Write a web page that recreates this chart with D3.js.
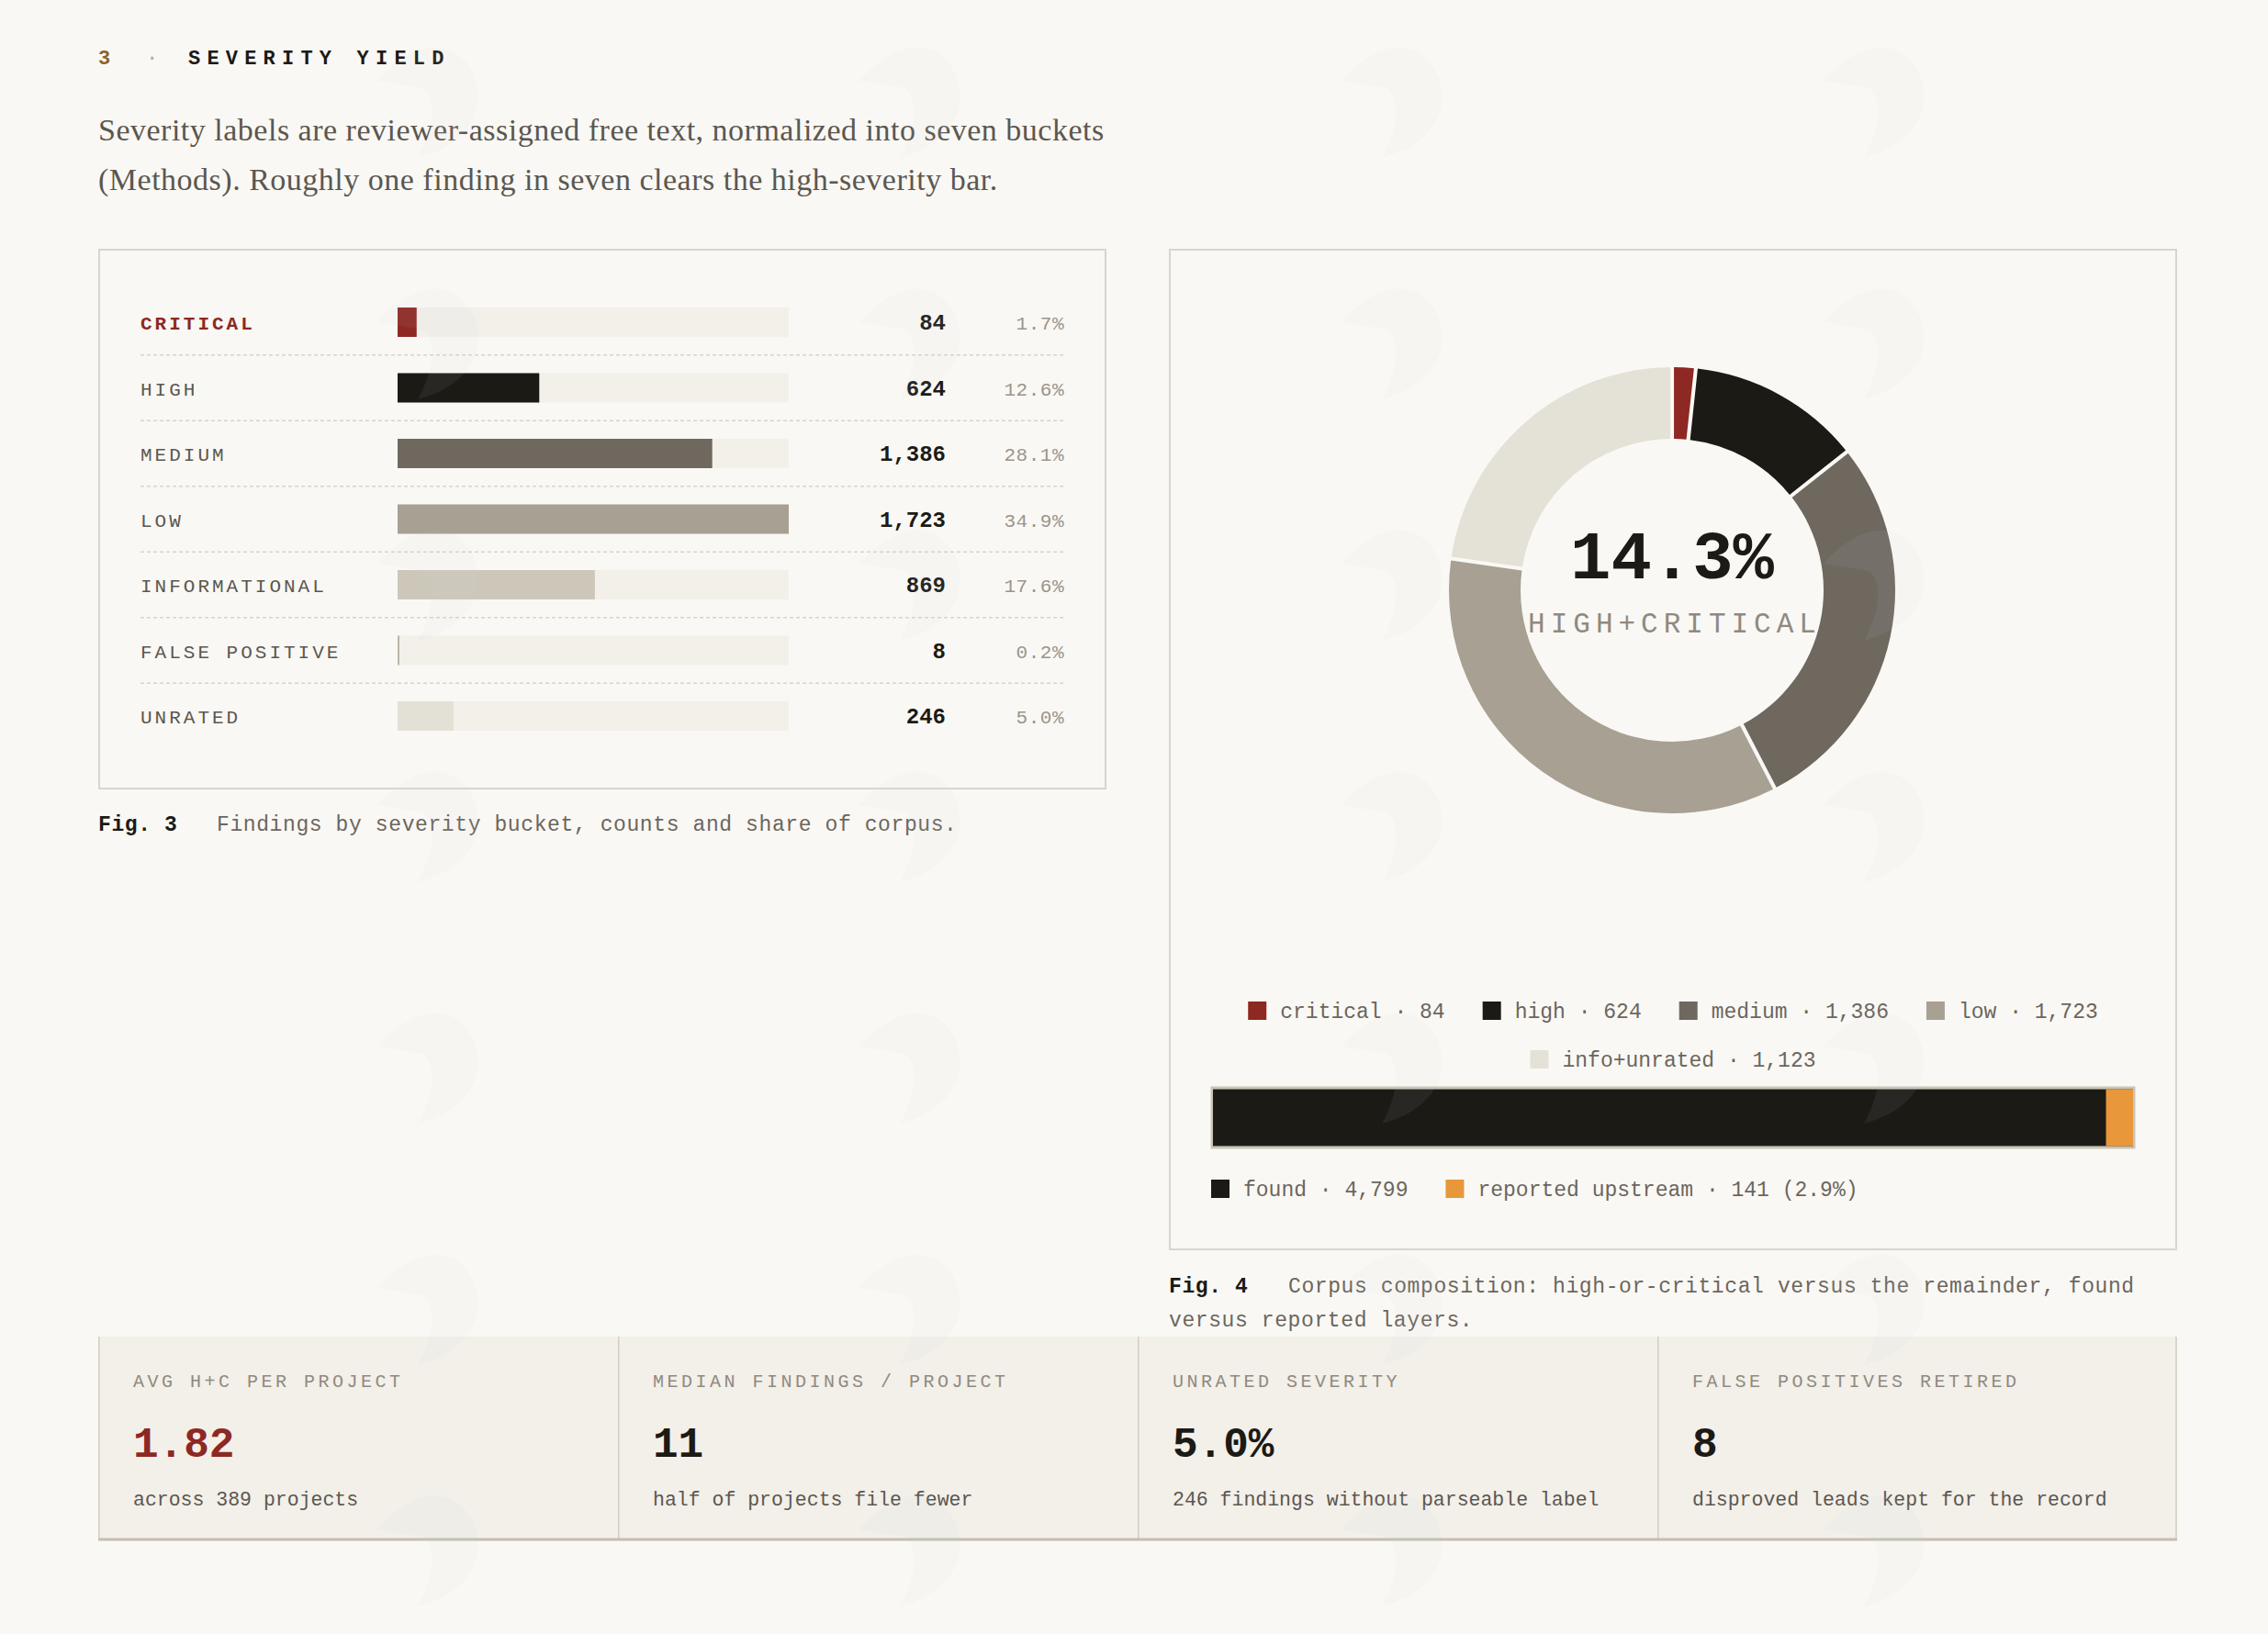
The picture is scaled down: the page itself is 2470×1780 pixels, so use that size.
<!DOCTYPE html>
<html>
<head>
<meta charset="utf-8">
<script src="https://d3js.org/d3.v7.min.js"></script>
<style>
  html, body { margin: 0; padding: 0; background: #faf8f4; }
  svg { display: block; }
  .mono { font-family: "Liberation Mono", "DejaVu Sans Mono", monospace; }
  .serif { font-family: "Liberation Serif", "DejaVu Serif", serif; }
</style>
</head>
<body>
<div id="chart"></div>
<script>
// severity buckets (Fig. 3)
var categories = ["CRITICAL", "HIGH", "MEDIUM", "LOW", "INFORMATIONAL", "FALSE POSITIVE", "UNRATED"];
var counts = [84, 624, 1386, 1723, 869, 8, 246];
var barColors = ["#8d2823", "#1c1a15", "#6e685f", "#a7a093", "#cdc7ba", "#bdb5a7", "#e3e0d5"];

// donut buckets (Fig. 4)
var donutLabels = ["critical", "high", "medium", "low", "info+unrated"];
var donutValues = [84, 624, 1386, 1723, 1123];
var donutColors = ["#8d2823", "#1c1a15", "#6e685f", "#a7a093", "#e4e1d6"];

// found vs reported layers
var layerLabels = ["found", "reported upstream"];
var layerValues = [4799, 141];
var layerColors = ["#1c1a15", "#e8973a"];

// stat strip
var kpiLabels = ["AVG H+C PER PROJECT", "MEDIAN FINDINGS / PROJECT", "UNRATED SEVERITY", "FALSE POSITIVES RETIRED"];
var kpiValues = ["1.82", "11", "5.0%", "8"];
var kpiNotes = ["across 389 projects", "half of projects file fewer", "246 findings without parseable label", "disproved leads kept for the record"];

var W = 2470, H = 1780;
var fmt = d3.format(",");
var pctFmt = function (v) { return d3.format(".1f")(v * 100) + "%"; };
var total = d3.sum(counts);

var svg = d3.select("#chart").append("svg")
    .attr("width", W).attr("height", H);

svg.append("rect").attr("width", W).attr("height", H).attr("fill", "#faf8f4");

// header
var head = svg.append("text").attr("class", "mono").attr("x", 107).attr("y", 70)
    .attr("font-size", 22);
head.append("tspan").attr("fill", "#8c6428").attr("font-weight", 700).text("3");
head.append("tspan").attr("x", 159).attr("fill", "#b0aba2").text("·");
head.append("tspan").attr("x", 205).attr("fill", "#1c1a15").attr("font-weight", 700)
    .attr("letter-spacing", 7.2).text("SEVERITY YIELD");

var para = ["Severity labels are reviewer-assigned free text, normalized into seven buckets",
            "(Methods). Roughly one finding in seven clears the high-severity bar."];
svg.selectAll("text.para").data(para).enter().append("text")
    .attr("class", "serif para").attr("x", 107)
    .attr("y", function (d, i) { return 153 + i * 54; })
    .attr("font-size", 34).attr("letter-spacing", 0.5)
    .attr("fill", "#5b5750").text(function (d) { return d; });

// ---------- Fig. 3 panel ----------
svg.append("rect").attr("x", 108).attr("y", 272).attr("width", 1096).attr("height", 587)
    .attr("fill", "none").attr("stroke", "#d9d5cc").attr("stroke-width", 2);

var x = d3.scaleLinear().domain([0, d3.max(counts)]).range([433, 859]);
var y = d3.scalePoint().domain(categories).range([351, 780]);
var step = y.step();

var rows = svg.append("g").selectAll("g").data(categories).enter().append("g");

rows.filter(function (d, i) { return i < categories.length - 1; }).append("line")
    .attr("x1", 153).attr("x2", 1159)
    .attr("y1", function (d) { return y(d) + step / 2; })
    .attr("y2", function (d) { return y(d) + step / 2; })
    .attr("stroke", "#d8d3ca").attr("stroke-width", 1.5).attr("stroke-dasharray", "4 3");

rows.append("text").attr("class", "mono").attr("x", 153)
    .attr("y", function (d) { return y(d) + 8; })
    .attr("font-size", 21).attr("letter-spacing", 3)
    .attr("font-weight", function (d, i) { return i === 0 ? 700 : 400; })
    .attr("fill", function (d, i) { return i === 0 ? "#8d2823" : "#5b5750"; })
    .text(function (d) { return d; });

rows.append("rect").attr("x", x(0)).attr("y", function (d) { return y(d) - 16; })
    .attr("width", x.range()[1] - x(0)).attr("height", 32).attr("fill", "#f3efe9");

rows.append("rect").attr("x", x(0)).attr("y", function (d) { return y(d) - 16; })
    .attr("width", function (d, i) { return Math.max(2, x(counts[i]) - x(0)); })
    .attr("height", 32).attr("fill", function (d, i) { return barColors[i]; });

rows.append("text").attr("class", "mono").attr("x", 1030)
    .attr("y", function (d) { return y(d) + 8; })
    .attr("text-anchor", "end").attr("font-size", 24).attr("font-weight", 700)
    .attr("fill", "#1c1a15").text(function (d, i) { return fmt(counts[i]); });

rows.append("text").attr("class", "mono").attr("x", 1159)
    .attr("y", function (d) { return y(d) + 8; })
    .attr("text-anchor", "end").attr("font-size", 21).attr("letter-spacing", 0.5)
    .attr("fill", "#9a958c").text(function (d, i) { return pctFmt(counts[i] / total); });

var cap3 = svg.append("text").attr("class", "mono").attr("x", 107).attr("y", 905)
    .attr("font-size", 23).attr("letter-spacing", 0.6);
cap3.append("tspan").attr("font-weight", 700).attr("fill", "#1c1a15").text("Fig. 3");
cap3.append("tspan").attr("x", 236).attr("fill", "#6b665e")
    .text("Findings by severity bucket, counts and share of corpus.");

// ---------- Fig. 4 panel ----------
svg.append("rect").attr("x", 1274).attr("y", 272).attr("width", 1096).attr("height", 1089)
    .attr("fill", "none").attr("stroke", "#d9d5cc").attr("stroke-width", 2);

var cx = 1821, cy = 643;
var pie = d3.pie().sort(null).value(function (d) { return d; });
var arc = d3.arc().innerRadius(165).outerRadius(243).padAngle(0.014);
var donut = svg.append("g").attr("transform", "translate(" + cx + "," + cy + ")");
donut.selectAll("path").data(pie(donutValues)).enter().append("path")
    .attr("d", arc).attr("fill", function (d, i) { return donutColors[i]; });

var hc = (donutValues[0] + donutValues[1]) / d3.sum(donutValues);
donut.append("text").attr("class", "mono").attr("x", 0).attr("y", -13)
    .attr("text-anchor", "middle").attr("font-size", 74).attr("font-weight", 700)
    .attr("fill", "#1c1a15").text(pctFmt(hc));
donut.append("text").attr("class", "mono").attr("x", 3).attr("y", 46)
    .attr("text-anchor", "middle").attr("font-size", 31).attr("letter-spacing", 6)
    .attr("fill", "#8f8a80").text("HIGH+CRITICAL");

// legend helper: lays out swatch + text items, centered or left aligned
function legendRow(items, baseY, anchorX, centered) {
  var g = svg.append("g");
  var its = g.selectAll("g").data(items).enter().append("g");
  its.append("rect").attr("width", 20).attr("height", 20).attr("y", baseY - 18)
      .attr("fill", function (d) { return d.color; });
  var t = its.append("text").attr("class", "mono").attr("x", 35).attr("y", baseY)
      .attr("font-size", 23).attr("fill", "#6b665e").text(function (d) { return d.text; });
  var widths = [];
  t.each(function () { widths.push(35 + this.getComputedTextLength()); });
  var totalW = d3.sum(widths) + 41 * (items.length - 1);
  var cur = centered ? anchorX - totalW / 2 : anchorX;
  its.attr("transform", function (d, i) {
    var tx = cur; cur += widths[i] + 41; return "translate(" + tx + ",0)";
  });
}

var donutItems = donutLabels.map(function (l, i) {
  return { text: l + " · " + fmt(donutValues[i]), color: donutColors[i] };
});
legendRow(donutItems.slice(0, 4), 1109, 1822, true);
legendRow(donutItems.slice(4), 1162, 1822, true);

// found vs reported bar
var foundTotal = layerValues[0];
var xs = d3.scaleLinear().domain([0, foundTotal]).range([1321, 2323]);
svg.append("rect").attr("x", 1320).attr("y", 1185).attr("width", 1004).attr("height", 65)
    .attr("fill", "none").attr("stroke", "#c9c4b5").attr("stroke-width", 3);
svg.append("rect").attr("x", xs(0)).attr("y", 1186.5).attr("width", xs(foundTotal) - xs(0))
    .attr("height", 62).attr("fill", layerColors[0]);
svg.append("rect").attr("x", xs(foundTotal - layerValues[1])).attr("y", 1186.5)
    .attr("width", xs(foundTotal) - xs(foundTotal - layerValues[1]))
    .attr("height", 62).attr("fill", layerColors[1]);

legendRow([
  { text: layerLabels[0] + " · " + fmt(layerValues[0]), color: layerColors[0] },
  { text: layerLabels[1] + " · " + fmt(layerValues[1]) + " (" + pctFmt(layerValues[1] / layerValues[0]) + ")", color: layerColors[1] }
], 1303, 1319, false);

var cap4 = svg.append("text").attr("class", "mono").attr("x", 1273).attr("y", 1408)
    .attr("font-size", 23).attr("letter-spacing", 0.6);
cap4.append("tspan").attr("font-weight", 700).attr("fill", "#1c1a15").text("Fig. 4");
cap4.append("tspan").attr("x", 1403).attr("fill", "#6b665e")
    .text("Corpus composition: high-or-critical versus the remainder, found");
cap4.append("tspan").attr("x", 1273).attr("y", 1445).attr("fill", "#6b665e")
    .text("versus reported layers.");

// ---------- stat strip ----------
var kx = d3.scaleBand().domain(d3.range(kpiLabels.length)).range([107, 2371]);
var strip = svg.append("g");
strip.append("rect").attr("x", 107).attr("y", 1456).attr("width", 2264).attr("height", 222)
    .attr("fill", "#f3efe9");
var cells = strip.selectAll("g").data(kpiLabels).enter().append("g")
    .attr("transform", function (d, i) { return "translate(" + kx(i) + ",0)"; });
cells.append("line").attr("x1", 0.75).attr("x2", 0.75).attr("y1", 1456).attr("y2", 1678)
    .attr("stroke", "#d3cdc2").attr("stroke-width", 1.5);
cells.append("text").attr("class", "mono").attr("x", 38).attr("y", 1511)
    .attr("font-size", 20).attr("letter-spacing", 3.5).attr("fill", "#8f8a80")
    .text(function (d) { return d; });
cells.append("text").attr("class", "mono").attr("x", 38).attr("y", 1587)
    .attr("font-size", 46).attr("font-weight", 700)
    .attr("fill", function (d, i) { return i === 0 ? "#8d2823" : "#1c1a15"; })
    .text(function (d, i) { return kpiValues[i]; });
cells.append("text").attr("class", "mono").attr("x", 38).attr("y", 1640)
    .attr("font-size", 21.5).attr("fill", "#5b5750")
    .text(function (d, i) { return kpiNotes[i]; });
strip.append("line").attr("x1", 2370).attr("x2", 2370).attr("y1", 1456).attr("y2", 1678)
    .attr("stroke", "#d3cdc2").attr("stroke-width", 1.5);
strip.append("line").attr("x1", 107).attr("x2", 2371).attr("y1", 1677).attr("y2", 1677)
    .attr("stroke", "#c4beb2").attr("stroke-width", 3);

// faint watermark tiles over everything
var wmX = [473, 998, 1523, 2048];
var wmY = [110, 373, 636, 899, 1162, 1425, 1688];
var wm = svg.append("g").attr("pointer-events", "none");
wmY.forEach(function (yy) {
  wmX.forEach(function (xx) {
    wm.append("path")
      .attr("transform", "translate(" + xx + "," + yy + ")")
      .attr("d", "M-5,-58 C35,-62 55,-20 45,12 C35,42 5,56 -18,62 C-2,32 4,2 -12,-14 L-62,-22 C-45,-42 -25,-55 -5,-58 Z")
      .attr("fill", "#c3cede").attr("opacity", 0.07);
  });
});
</script>
</body>
</html>
